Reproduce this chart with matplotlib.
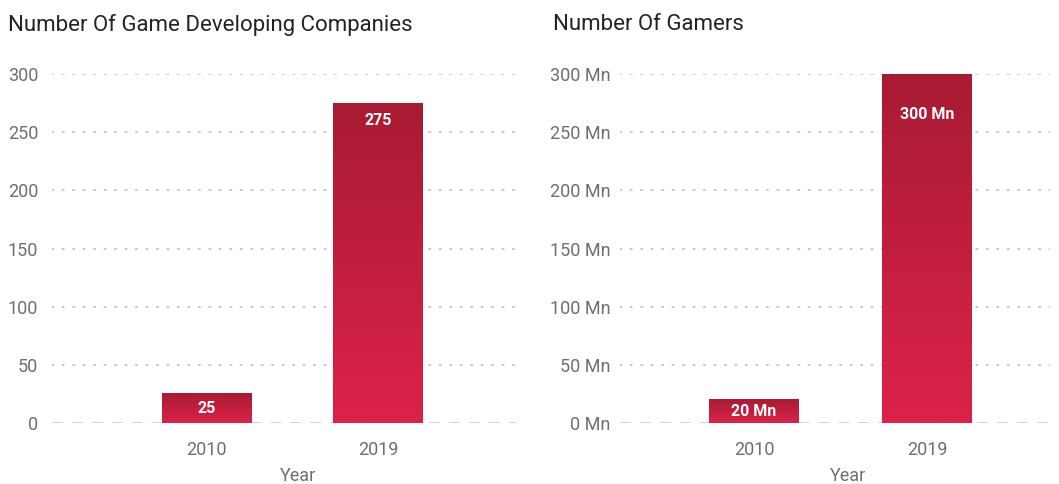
import numpy as np
import matplotlib
matplotlib.use('Agg')
import matplotlib.pyplot as plt
from matplotlib.colors import LinearSegmentedColormap

plt.rcParams['font.family'] = ['Roboto', 'DejaVu Sans']

# data
years = ['2010', '2019']
companies = [25, 275]
company_labels = ['25', '275']
gamers = [20, 300]  # millions
gamer_labels = ['20 Mn', '300 Mn']
y_ticks = [0, 50, 100, 150, 200, 250, 300]

bar_red = LinearSegmentedColormap.from_list('bar_red', ['#dc2249', '#a81b33'])
GRID = '#c4c4c4'
TICK = '#6f6f6f'


def gradient_bars(ax, values, labels, inside_off):
    x = np.arange(len(values))
    bars = ax.bar(x, values, width=0.52, color='none', zorder=3)
    for b, v, lab in zip(bars, values, labels):
        x0, w, h = b.get_x(), b.get_width(), b.get_height()
        ax.imshow(np.linspace(0, 1, 256).reshape(-1, 1), cmap=bar_red,
                  origin='lower', aspect='auto', interpolation='bilinear',
                  extent=[x0, x0 + w, 0, h], zorder=3)
        ty = v - inside_off if v > 100 else v / 2
        ax.text(x0 + w / 2, ty, lab, ha='center', va='center', color='white',
                fontsize=11.5, fontweight='bold', zorder=4)
    return x


def style_axes(ax, x, fmt, pad):
    for t in y_ticks[1:]:
        ax.axhline(t, color=GRID, lw=1.3, ls=(0, (0.8, 5)), zorder=1,
                   dash_capstyle='round')
    ax.axhline(0, color='#d0d0d0', lw=1.3, ls=(0, (6, 5)), zorder=2)
    ax.set_ylim(0, 300)
    ax.set_yticks(y_ticks)
    ax.set_yticklabels([fmt(t) for t in y_ticks])
    ax.set_xticks(x)
    ax.set_xticklabels(years)
    for s in ax.spines.values():
        s.set_visible(False)
    ax.tick_params(axis='both', length=0, labelsize=13, labelcolor=TICK)
    ax.tick_params(axis='y', pad=pad)
    ax.tick_params(axis='x', pad=13)
    ax.set_xlabel('Year', fontsize=13, color=TICK, va='center')
    ax.xaxis.set_label_coords(0.53, -0.152)


fig = plt.figure(figsize=(10.59, 4.84), dpi=100)
fig.patch.set_facecolor('white')

ax1 = fig.add_axes([52 / 1059, 61 / 484, 465 / 1059, 349 / 484])
x = gradient_bars(ax1, companies, company_labels, 15)
style_axes(ax1, x, lambda t: f'{t}', 10)
ax1.set_xlim(-0.9, 1.81)

ax2 = fig.add_axes([620 / 1059, 61 / 484, 430 / 1059, 349 / 484])
x = gradient_bars(ax2, gamers, gamer_labels, 35)
style_axes(ax2, x, lambda t: f'{t} Mn', 7)
ax2.set_xlim(-0.775, 1.71)

fig.text(8 / 1059, 1 - 25 / 484, 'Number Of Game Developing Companies',
         fontsize=16, color='#252423', va='center', ha='left')
fig.text(553 / 1059, 1 - 25 / 484, 'Number Of Gamers',
         fontsize=16, color='#252423', va='center', ha='left')

fig.savefig('out.png', dpi=100, facecolor='white')
